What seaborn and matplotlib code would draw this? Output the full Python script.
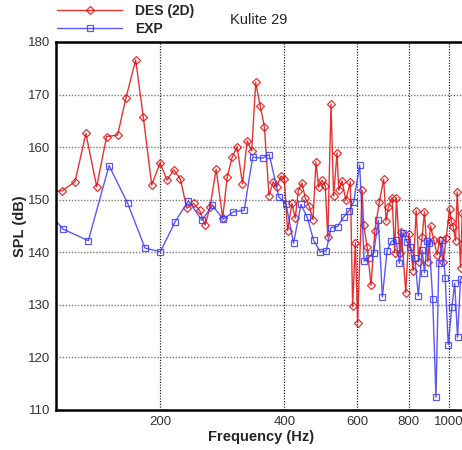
import numpy as np
import pandas as pd
import matplotlib
matplotlib.use("Agg")
import matplotlib.pyplot as plt
from matplotlib.ticker import FixedLocator, NullFormatter, FixedFormatter
import seaborn as sns

# ---- data ----
des_freq = [108.2, 115.9, 124.5, 132.3, 140.5, 148.5, 157.9, 165.4, 174.6, 182.2,
            190.9, 200.0, 208.0, 215.9, 224.0, 232.1, 241.1, 249.3, 257.1, 264.4,
            273.4, 283.5, 290.7, 298.9, 307.3, 316.6, 325.0, 333.3, 340.8, 349.5,
            357.7, 367.0, 375.7, 382.7, 392.2, 399.6, 407.0, 417.1, 424.8, 432.0,
            441.0, 449.2, 459.4, 468.9, 476.8, 483.8, 493.1, 502.2, 509.3, 518.5,
            526.0, 536.1, 541.5, 551.3, 563.1, 577.4, 584.9, 593.7, 601.4, 616.4,
            621.9, 633.8, 648.1, 662.0, 678.8, 695.3, 704.7, 713.8, 728.7, 739.4,
            746.4, 760.3, 767.5, 786.4, 799.6, 819.5, 833.3, 845.5, 861.7, 872.8,
            889.1, 902.6, 919.3, 937.0, 949.1, 968.9, 985.2, 1003.5, 1013.1, 1024.5,
            1037.7, 1047.6, 1067.1, 1077.2, 1100.0]
des_spl = [151.5, 151.7, 153.4, 162.6, 152.5, 162.0, 162.3, 169.4, 176.6, 165.7,
           152.8, 157.0, 153.7, 155.7, 153.9, 148.4, 149.3, 148.0, 145.2, 148.7,
           155.8, 146.5, 154.3, 158.1, 160.1, 153.0, 161.2, 159.3, 172.3, 167.8,
           163.9, 150.8, 153.4, 152.4, 154.5, 154.0, 144.1, 149.3, 146.5, 151.7,
           153.2, 150.3, 148.8, 146.2, 157.2, 152.4, 153.7, 152.6, 142.9, 168.2,
           150.7, 158.9, 151.8, 153.6, 149.9, 153.4, 129.7, 141.8, 126.6, 151.8,
           145.2, 141.1, 133.7, 144.1, 149.6, 153.9, 146.0, 148.6, 150.4, 139.9,
           150.3, 139.9, 143.9, 132.3, 143.5, 136.5, 147.9, 138.2, 143.0, 147.7,
           138.2, 145.0, 142.3, 139.5, 142.3, 138.2, 142.7, 148.2, 146.0, 144.9,
           142.2, 151.5, 137.1, 147.5, 144.0]

exp_freq = [108.2, 116.6, 134.1, 150.5, 167.0, 183.9, 200.3, 217.5, 234.2, 252.4,
            267.8, 284.3, 301.1, 319.6, 335.1, 354.0, 367.5, 387.9, 403.6, 420.8,
            438.6, 453.5, 470.5, 488.4, 505.1, 518.5, 537.9, 556.2, 573.4, 588.2,
            608.2, 623.7, 639.5, 657.6, 675.1, 690.3, 708.6, 725.9, 744.3, 759.0,
            774.9, 791.5, 807.1, 826.8, 843.6, 861.7, 872.8, 885.1, 896.5, 913.6,
            930.6, 945.3, 963.4, 979.7, 996.2, 1016.4, 1033.0, 1049.4, 1067.1, 1100.0]
exp_spl = [147.3, 144.4, 142.2, 156.5, 149.3, 140.8, 140.1, 145.8, 149.8, 146.1,
           148.9, 146.3, 147.7, 148.0, 158.1, 157.9, 158.6, 150.5, 149.2, 141.7,
           149.1, 146.8, 142.3, 140.1, 140.3, 144.7, 144.9, 146.7, 147.9, 149.6,
           156.6, 138.3, 139.0, 139.9, 146.1, 131.5, 140.3, 142.1, 142.4, 137.9,
           143.7, 142.0, 141.0, 139.0, 131.7, 140.4, 136.1, 142.1, 141.7, 131.2,
           112.4, 137.9, 142.3, 135.1, 122.4, 129.5, 134.1, 123.8, 134.9, 136.0]

x_major = [200, 400, 600, 800, 1000]
x_major_labels = ["200", "400", "600", "800", "1000"]
y_major = [110, 120, 130, 140, 150, 160, 170, 180]
legend_labels = ["DES (2D)", "EXP"]
title_text = "Kulite 29"

# ---- style ----
sns.set_style("white")
plt.rcParams["font.family"] = ["Liberation Sans", "DejaVu Sans"]

fig = plt.figure(figsize=(4.62, 4.50), dpi=100)
W, H = 462, 450
ax = fig.add_axes([56 / W, 1 - 410 / H, (466 - 56) / W, (410 - 42) / H])

des_df = pd.DataFrame({"f": des_freq, "spl": des_spl})
exp_df = pd.DataFrame({"f": exp_freq, "spl": exp_spl})

red = "#e01010"
blue = "#3c3cf5"
sns.lineplot(data=des_df, x="f", y="spl", ax=ax, sort=False, estimator=None,
             color=red, lw=1.0, marker="D", markersize=4.3,
             markerfacecolor="none", markeredgecolor=red, markeredgewidth=0.9,
             label=legend_labels[0], alpha=0.85)
sns.lineplot(data=exp_df, x="f", y="spl", ax=ax, sort=False, estimator=None,
             color=blue, lw=1.0, marker="s", markersize=4.0,
             markerfacecolor="none", markeredgecolor=blue, markeredgewidth=0.9,
             label=legend_labels[1], alpha=0.85)

ax.set_xscale("log")
ax.set_xlim(112, 1100)
ax.set_ylim(110, 180)

ax.xaxis.set_major_locator(FixedLocator(x_major))
ax.xaxis.set_major_formatter(FixedFormatter(x_major_labels))
minor_x = [v for v in range(120, 1100, 40) if v not in x_major]
ax.xaxis.set_minor_locator(FixedLocator(minor_x))
ax.xaxis.set_minor_formatter(NullFormatter())
ax.yaxis.set_major_locator(FixedLocator(y_major))
ax.yaxis.set_minor_locator(FixedLocator([v for v in range(110, 181, 2) if v % 10]))

ax.tick_params(axis="both", which="major", direction="in", length=8, width=1.6,
               labelsize=9.5, colors="black", pad=4)
ax.tick_params(axis="both", which="minor", direction="in", length=4, width=1.0)
for lab in ax.get_xticklabels() + ax.get_yticklabels():
    lab.set_color("#333333")

for s in ["left", "bottom", "top", "right"]:
    ax.spines[s].set_color("black")
    ax.spines[s].set_linewidth(1.8)

ax.grid(True, which="major", axis="y", linestyle=(0, (1, 1.2)), color="#777777", lw=1.0)
ax.grid(True, which="major", axis="x", linestyle=(0, (1, 1.2)), color="#222222", lw=0.9)
ax.set_axisbelow(True)

ax.set_xlabel("Frequency (Hz)", fontsize=10.5, fontweight="bold", labelpad=2)
ax.set_ylabel("SPL (dB)", fontsize=10.5, fontweight="bold", labelpad=1)

ax.legend(loc="upper left", bbox_to_anchor=(57 / W, 1 - 4 / H),
          bbox_transform=fig.transFigure, frameon=False,
          prop={"weight": "bold", "size": 10}, handlelength=4.7,
          handletextpad=0.9, labelspacing=0.3, borderpad=0, borderaxespad=0,
          markerfirst=True)

fig.text(230 / W, 1 - 20 / H, title_text, fontsize=10.5, ha="left", va="center")

fig.savefig("out.png", dpi=100)
